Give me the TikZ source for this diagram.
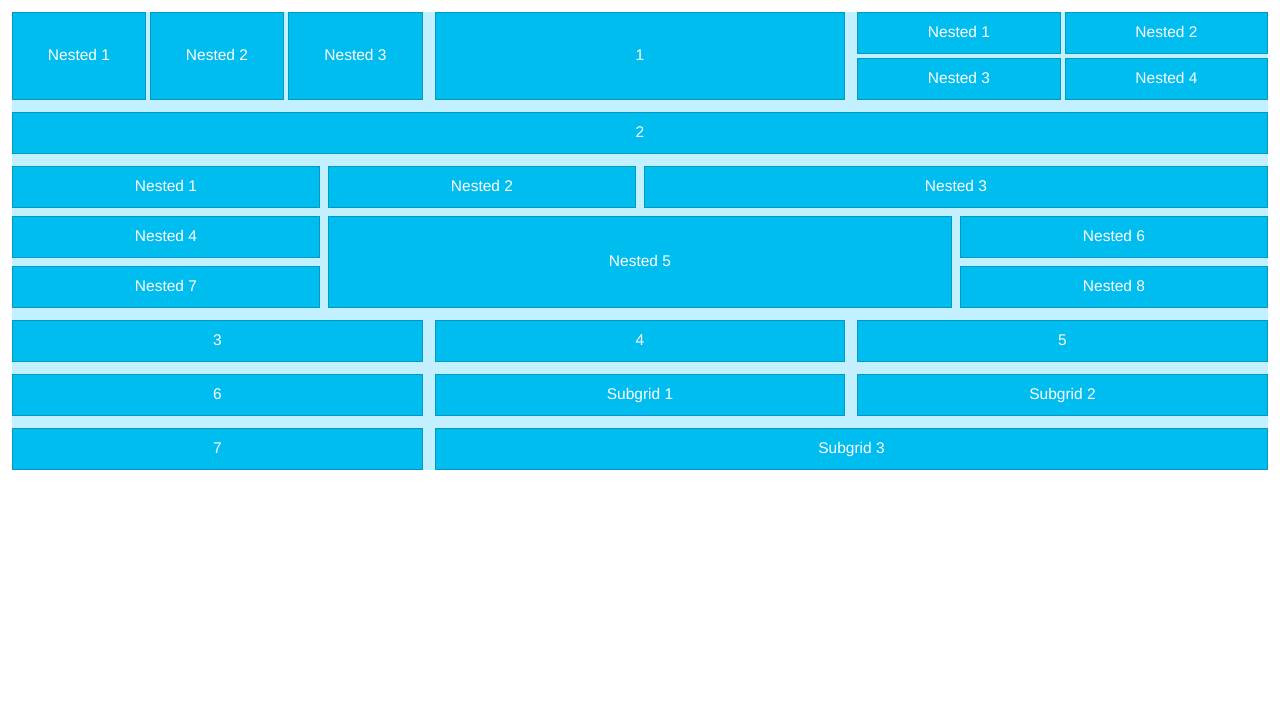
\documentclass[tikz,border=0pt]{standalone}
\usepackage{fontspec}
\setmainfont{Liberation Sans}

\definecolor{gridbg}{HTML}{C2F0FF}
\definecolor{cellfill}{HTML}{00BDF0}
\definecolor{cellline}{HTML}{0798C2}

\tikzset{
  cell/.style={draw=cellline,fill=cellfill,line width=0.8pt,inner sep=0pt,
    text=white,text height=10pt,text depth=2pt,
    font=\fontsize{15.5}{18}\selectfont}
}

% one box of the grid: name, left, top, right, bottom, text
\newcommand{\gridcell}[6]{%
  \node[cell,minimum width={#4-#2-0.8},minimum height={#5-#3-0.8}]
    (#1) at ({(#2+#4)/2},{(#3+#5)/2}) {#6};}

\begin{document}
\begin{tikzpicture}[x=1pt,y=-1pt]
\useasboundingbox (0,0) rectangle (1280,720);
\fill[gridbg](12,12) rectangle (1268,470);

% first row
\gridcell{aa}{12}{12}{146}{100}{Nested 1}
\gridcell{ab}{150}{12}{284}{100}{Nested 2}
\gridcell{ac}{288}{12}{423}{100}{Nested 3}
\gridcell{one}{435}{12}{845}{100}{1}
\gridcell{ba}{857}{12}{1061}{54}{Nested 1}
\gridcell{bb}{1065}{12}{1268}{54}{Nested 2}
\gridcell{bc}{857}{58}{1061}{100}{Nested 3}
\gridcell{bd}{1065}{58}{1268}{100}{Nested 4}

\gridcell{two}{12}{112}{1268}{154}{2}

% nested block
\gridcell{ca}{12}{166}{320}{208}{Nested 1}
\gridcell{cb}{328}{166}{636}{208}{Nested 2}
\gridcell{cc}{644}{166}{1268}{208}{Nested 3}
\gridcell{cd}{12}{216}{320}{258}{Nested 4}
\gridcell{ce}{328}{216}{952}{308}{Nested 5}
\gridcell{cf}{960}{216}{1268}{258}{Nested 6}
\gridcell{cg}{12}{266}{320}{308}{Nested 7}
\gridcell{ch}{960}{266}{1268}{308}{Nested 8}

% lower rows
\gridcell{three}{12}{320}{423}{362}{3}
\gridcell{four}{435}{320}{845}{362}{4}
\gridcell{five}{857}{320}{1268}{362}{5}
\gridcell{six}{12}{374}{423}{416}{6}
\gridcell{sa}{435}{374}{845}{416}{Subgrid 1}
\gridcell{sb}{857}{374}{1268}{416}{Subgrid 2}
\gridcell{seven}{12}{428}{423}{470}{7}
\gridcell{sc}{435}{428}{1268}{470}{Subgrid 3}

\end{tikzpicture}
\end{document}
